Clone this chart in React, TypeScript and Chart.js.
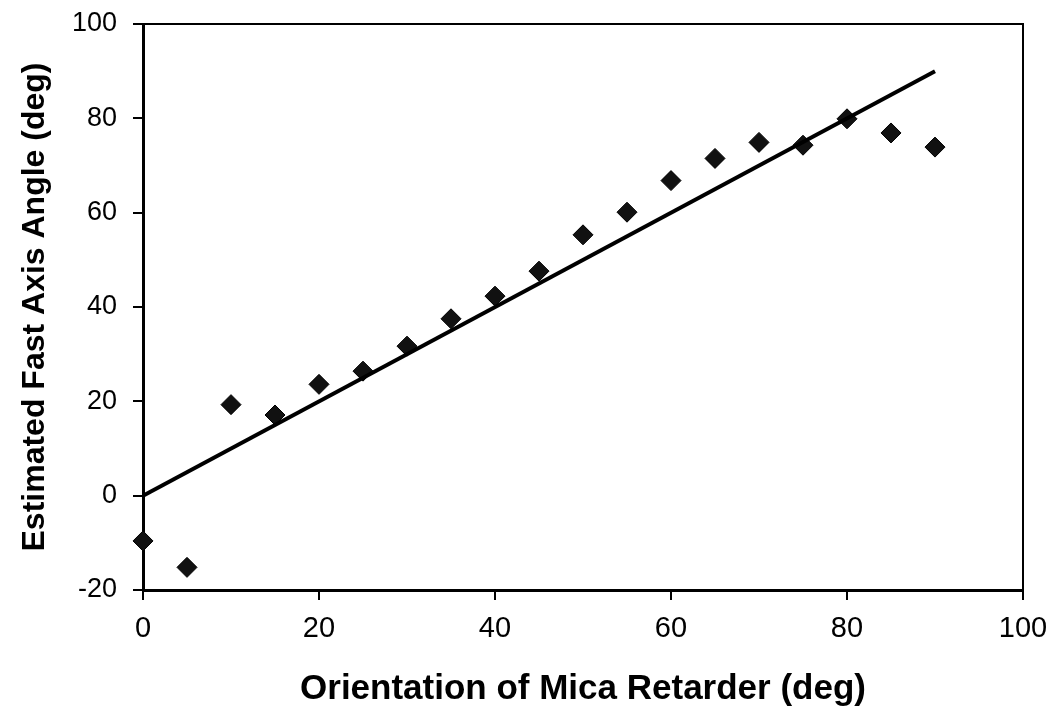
import React, { useEffect, useRef } from "react";
import { Chart, registerables } from "chart.js";

Chart.register(...registerables);

const orientation = [0, 5, 10, 15, 20, 25, 30, 35, 40, 45, 50, 55, 60, 65, 70, 75, 80, 85, 90];
const fastAxis = [-9.6, -15.2, 19.3, 17.1, 23.6, 26.4, 31.7, 37.5, 42.3, 47.6, 55.3, 60.1, 66.8, 71.5, 74.9, 74.3, 79.9, 76.9, 73.9];
const fitX = [0, 90];
const fitY = [0, 90];
const xTitle = "Orientation of Mica Retarder (deg)";
const yTitle = "Estimated Fast Axis Angle (deg)";

const frame = {
  id: "frame",
  afterDatasetsDraw(chart: any) {
    const { ctx, chartArea: a } = chart;
    ctx.save();
    ctx.strokeStyle = "#000";
    ctx.lineWidth = 2;
    ctx.beginPath();
    ctx.moveTo(a.left, a.top);
    ctx.lineTo(a.right, a.top);
    ctx.lineTo(a.right, a.bottom);
    ctx.stroke();
    ctx.restore();
  },
};

export default function App() {
  const ref = useRef<HTMLCanvasElement>(null);
  useEffect(() => {
    const fam = "'Liberation Sans Narrow', 'Liberation Sans', Arial";
    const chart = new Chart(ref.current!, {
      type: "scatter",
      data: {
        datasets: [
          {
            type: "line",
            data: fitX.map((x, i) => ({ x, y: fitY[i] })),
            borderColor: "#000",
            borderWidth: 4,
            pointRadius: 0,
            fill: false,
          } as any,
          {
            data: orientation.map((x, i) => ({ x, y: fastAxis[i] })),
            pointStyle: "rectRot",
            pointRadius: 10,
            backgroundColor: "#111",
            borderColor: "#000",
            borderWidth: 1,
            clip: false,
          } as any,
        ],
      },
      options: {
        animation: false,
        responsive: false,
        maintainAspectRatio: false,
        layout: { padding: { top: 24, right: 29, left: 0, bottom: 0 } },
        plugins: { legend: { display: false }, tooltip: { enabled: false } },
        scales: {
          x: {
            type: "linear",
            min: 0,
            max: 100,
            ticks: { stepSize: 20, color: "#000", font: { family: fam, size: 29 }, padding: 12 },
            grid: { drawOnChartArea: false, drawTicks: true, tickLength: 10, color: "#000", lineWidth: 2 },
            border: { color: "#000", width: 3 },
            title: { display: true, text: xTitle, color: "#000", font: { family: "'Liberation Sans', Arial", size: 35, weight: "bold" }, padding: { top: 0, bottom: 5 } },
            afterFit(s: any) { s.height = 125; s.paddingLeft = 0; s.paddingRight = 0; },
          },
          y: {
            type: "linear",
            min: -20,
            max: 100,
            ticks: { stepSize: 20, color: "#000", font: { family: fam, size: 27 }, padding: 16 },
            grid: { drawOnChartArea: false, drawTicks: true, tickLength: 10, color: "#000", lineWidth: 2 },
            border: { color: "#000", width: 3 },
            title: { display: true, text: yTitle, color: "#000", font: { family: "'Liberation Sans', Arial", size: 32, weight: "bold" }, padding: { top: 16, bottom: 0 } },
            afterFit(s: any) { s.width = 143; s.paddingTop = 0; s.paddingBottom = 0; },
          },
        },
      },
      plugins: [frame],
    });
    return () => chart.destroy();
  }, []);
  return (
    <div style={{ position: "fixed", left: 0, top: 0, width: 1052, height: 715, background: "#fff" }}>
      <canvas ref={ref} width={1052} height={715} style={{ width: 1052, height: 715 }} />
    </div>
  );
}
